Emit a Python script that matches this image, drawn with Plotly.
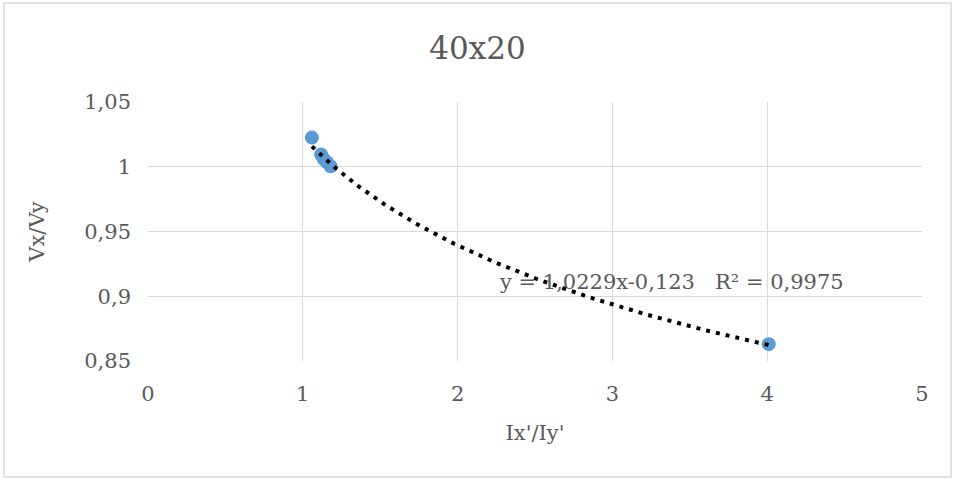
import numpy as np
import plotly.graph_objects as go

# Data
x_vals = [1.059, 1.118, 1.135, 1.156, 1.18, 4.01]
y_vals = [1.0225, 1.0095, 1.006, 1.0035, 1.0003, 0.863]
# Trendline coefficients (power fit shown on chart)
coef_a = 1.0229
coef_b = -0.123
trend_label = "y = 1,0229x-0,123   R² = 0,9975"

x_ticks = [0, 1, 2, 3, 4, 5]
y_ticks = [0.85, 0.9, 0.95, 1.0, 1.05]
y_tick_text = ["0,85", "0,9", "0,95", "1", "1,05"]

tx = np.linspace(min(x_vals), max(x_vals), 200)
ty = coef_a * tx ** coef_b

FONT = "DejaVu Serif"
GREY = "#595959"

fig = go.Figure()
fig.add_trace(go.Scatter(x=x_vals, y=y_vals, mode="markers",
                         marker=dict(size=14, color="#5B9BD5"), showlegend=False))
fig.add_trace(go.Scatter(x=tx, y=ty, mode="lines",
                         line=dict(color="black", width=4, dash="4px,6px"), showlegend=False))

fig.add_annotation(x=2.255, y=0.911, xref="x", yref="y", text=trend_label,
                   showarrow=False, xanchor="left", yanchor="middle",
                   font=dict(family=FONT, size=21, color=GREY))

fig.update_layout(
    width=955, height=479,
    margin=dict(l=148, r=33, t=102, b=118),
    paper_bgcolor="white", plot_bgcolor="white",
    title=dict(text="40x20", x=0.5, xanchor="center", y=0.9, yanchor="middle",
               font=dict(family=FONT, size=31, color=GREY)),
    xaxis=dict(range=[0, 5], tickvals=x_ticks, showgrid=True, gridcolor="#D9D9D9",
               gridwidth=1, zeroline=False, showline=False, ticks="",
               ticklabelstandoff=18,
               tickfont=dict(family=FONT, size=21, color=GREY),
               title=dict(text="Ix'/Iy'", standoff=20,
                          font=dict(family=FONT, size=21, color=GREY))),
    yaxis=dict(range=[0.85, 1.05], tickvals=y_ticks, ticktext=y_tick_text,
               showgrid=True, gridcolor="#D9D9D9", gridwidth=1, zeroline=False,
               showline=False, ticks="", ticklabelstandoff=16,
               tickfont=dict(family=FONT, size=21, color=GREY),
               title=dict(text="Vx/Vy", standoff=33,
                          font=dict(family=FONT, size=21, color=GREY))),
    shapes=[dict(type="rect", xref="paper", yref="paper", x0=-0.186, x1=1.0375,
                 y0=-0.448, y1=1.382, line=dict(color="#D9D9D9", width=1.5))]
)
fig.write_html("out.html", config={"displayModeBar": False},
               post_script="document.body.style.margin='0';document.body.style.overflow='hidden';")
